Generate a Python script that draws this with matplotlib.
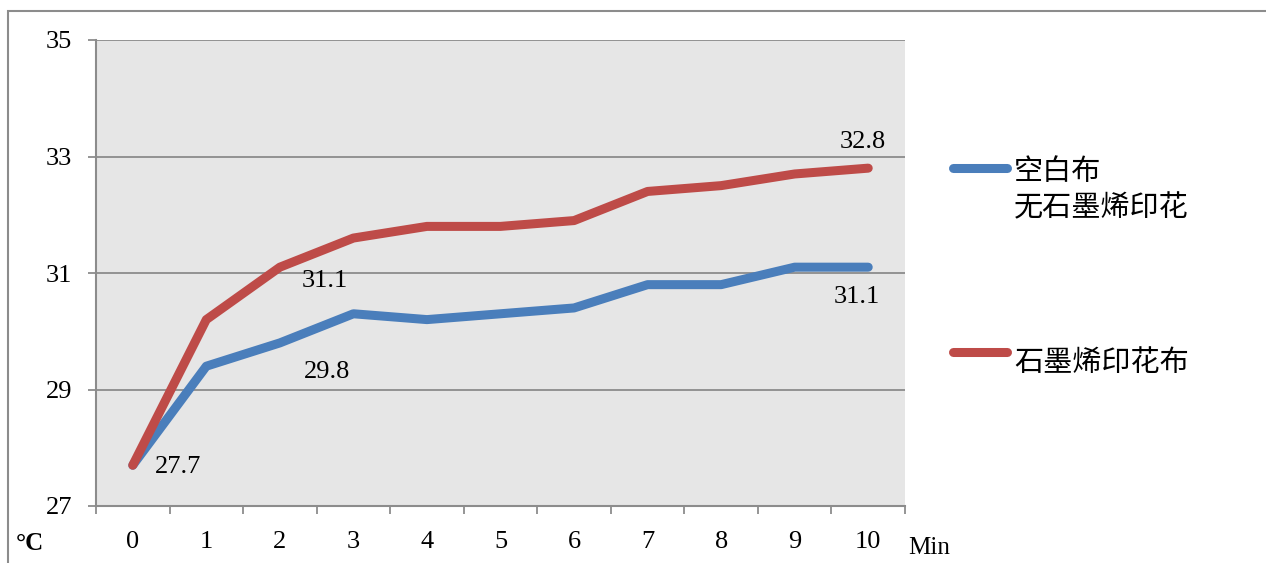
import matplotlib
matplotlib.use("Agg")
import matplotlib.pyplot as plt
from matplotlib.patches import Rectangle
from matplotlib.lines import Line2D

minutes = [0, 1, 2, 3, 4, 5, 6, 7, 8, 9, 10]
blank = [27.7, 29.4, 29.8, 30.3, 30.2, 30.3, 30.4, 30.8, 30.8, 31.1, 31.1]
graphene = [27.7, 30.2, 31.1, 31.6, 31.8, 31.8, 31.9, 32.4, 32.5, 32.7, 32.8]
blank_label = "空白布\n无石墨烯印花"
graphene_label = "石墨烯印花布"
y_ticks = [27, 29, 31, 33, 35]

blue = "#4a7ebb"
red = "#be4b48"
grid_c = "#8c8c8c"
serif = ["Liberation Serif", "DejaVu Serif"]
cjk = ["Noto Sans CJK SC", "DejaVu Sans"]

fig = plt.figure(figsize=(12.66, 5.63), dpi=100)
fig.patches.append(Rectangle((8 / 1266, -0.1), 1.2, (563 - 11) / 563 + 0.1,
                             transform=fig.transFigure, fill=False,
                             edgecolor="#8c8c8c", linewidth=1.5))

ax = fig.add_axes([96 / 1266, 57 / 563, (905 - 96) / 1266, (506 - 40) / 563])
ax.set_facecolor("#e6e6e6")

ax.plot(minutes, blank, color=blue, linewidth=6.5, solid_capstyle="round",
        solid_joinstyle="round", zorder=3)
ax.plot(minutes, graphene, color=red, linewidth=6.5, solid_capstyle="round",
        solid_joinstyle="round", zorder=4)

ax.set_xlim(-0.5, 10.5)
ax.set_ylim(27, 35)
ax.set_yticks(y_ticks)
ax.set_yticklabels([str(v) for v in y_ticks], fontfamily=serif, fontsize=19)
ax.set_xticks(minutes)
ax.set_xticklabels([str(m) for m in minutes], fontfamily=serif, fontsize=19)
ax.set_xticks([m - 0.5 for m in minutes] + [10.5], minor=True)
ax.tick_params(axis="x", which="major", length=0, pad=18)
ax.tick_params(axis="x", which="minor", length=5.5, width=1.3, color=grid_c, direction="out")
ax.tick_params(axis="y", length=6, width=1.3, color=grid_c, pad=11)
ax.grid(axis="y", color=grid_c, linewidth=1.3)
ax.set_axisbelow(True)
for s in ["top", "right"]:
    ax.spines[s].set_visible(False)
for s in ["left", "bottom"]:
    ax.spines[s].set_color(grid_c)
    ax.spines[s].set_linewidth(1.5)

def lab(x, y, dx, dy):
    ax.annotate(f"{y}", (x, y), xytext=(dx, dy), textcoords="offset pixels",
                ha="center", va="center", fontfamily=serif, fontsize=19, zorder=5)

lab(0, blank[0], 45, -2)
lab(2, blank[2], 47, -29)
lab(2, graphene[2], 45, -14)
lab(10, graphene[10], -5, 26)
lab(10, blank[10], -11, -30)

fig.text(16 / 1266, 1 - 543 / 563, "°C", fontfamily=serif, fontsize=18,
         fontweight="bold", ha="left", va="center")
fig.text(908 / 1266, 1 - 548 / 563, "Min", fontfamily=serif, fontsize=18,
         ha="left", va="center")

# legend
for yl, col, txt, ty in [(168, blue, blank_label, 190), (352, red, graphene_label, 363)]:
    fig.lines.append(Line2D([953 / 1266, 1007 / 1266], [1 - yl / 563] * 2,
                            transform=fig.transFigure, color=col, linewidth=6.5,
                            solid_capstyle="round"))
    fig.text(1014 / 1266, 1 - ty / 563, txt, fontfamily=cjk, fontsize=21,
             ha="left", va="center", linespacing=1.25)

fig.savefig("out.png", dpi=100)
